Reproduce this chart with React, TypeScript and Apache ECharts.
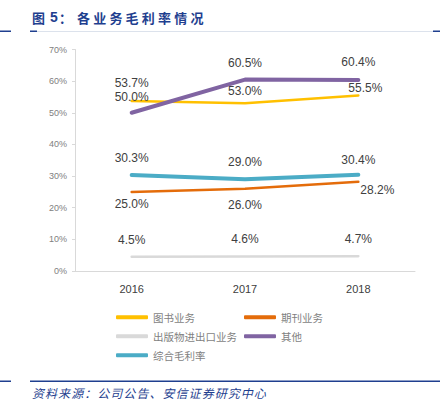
import React, { useEffect, useRef } from "react";
import * as echarts from "echarts";

const years = ["2016", "2017", "2018"];
const books = [53.7, 53.0, 55.5];
const periodicals = [25.0, 26.0, 28.2];
const importExport = [4.5, 4.6, 4.7];
const others = [50.0, 60.5, 60.4];
const overall = [30.3, 29.0, 30.4];
const seriesNames = ["图书业务", "期刊业务", "出版物进出口业务", "其他", "综合毛利率"];
const titleText = "各业务毛利率情况";
const footerText = "资料来源：公司公告、安信证券研究中心";

const BLUE = "#1F3F8F";
const CJK = "'Noto Sans CJK SC', sans-serif";

function charTexts(str: string, x0: number, pitch: number, y: number, style: any) {
  return str.split("").map((ch, i) => ({
    type: "text",
    x: x0 + i * pitch,
    y,
    style: { text: ch, ...style, textVerticalAlign: "middle" },
  }));
}

function mkData(vals: number[], offs: number[][]) {
  return vals.map((v, i) => ({
    value: v,
    label: { offset: offs[i] },
  }));
}

export default function App() {
  const ref = useRef<HTMLDivElement>(null);
  useEffect(() => {
    const chart = echarts.init(ref.current!, undefined, { renderer: "svg" });
    const labelBase = {
      show: true,
      position: "inside",
      formatter: (p: any) => p.value.toFixed(1) + "%",
      color: "#404040",
      fontSize: 12,
      fontFamily: "'Liberation Sans', Arial, sans-serif",
    };
    const mk = (name: string, vals: number[], color: string, width: number, offs: number[][]) => ({
      name,
      type: "line",
      data: mkData(vals, offs),
      symbol: "circle",
      symbolSize: 1,
      itemStyle: { color },
      lineStyle: { color, width, cap: "round" },
      label: labelBase,
      emphasis: { disabled: true },
    });
    const titleStyle = { fill: BLUE, fontSize: 13, fontWeight: "bold", fontFamily: CJK };
    const footStyle = { fill: BLUE, fontSize: 12, fontStyle: "italic", fontFamily: CJK };
    const legendText = { color: "#7F7F7F", fontSize: 10.5, fontFamily: CJK };
    chart.setOption({
      animation: false,
      grid: { left: 75, right: 32, top: 49.5, bottom: 128, containLabel: false },
      xAxis: {
        type: "category",
        data: years,
        boundaryGap: true,
        axisLine: { lineStyle: { color: "#D9D9D9", width: 1 } },
        axisTick: { show: false },
        axisLabel: { color: "#404040", fontSize: 11, margin: 12, fontFamily: "'Liberation Sans', Arial, sans-serif" },
      },
      yAxis: {
        type: "value",
        min: 0,
        max: 70,
        interval: 10,
        axisLine: { show: true, lineStyle: { color: "#D9D9D9", width: 1 } },
        axisTick: { show: true, length: 3, lineStyle: { color: "#D9D9D9" } },
        splitLine: { show: false },
        axisLabel: { color: "#808080", fontSize: 9, margin: 8, formatter: "{value}%", fontFamily: "'Liberation Sans', Arial, sans-serif" },
      },
      legend: [
        {
          orient: "vertical",
          left: 111,
          top: 307,
          itemWidth: 32,
          itemHeight: 4,
          itemGap: 8.5,
          icon: "roundRect",
          data: [seriesNames[0], seriesNames[2], seriesNames[4]],
          textStyle: legendText,
        },
        {
          orient: "vertical",
          left: 239,
          top: 307,
          itemWidth: 32,
          itemHeight: 4,
          itemGap: 8.5,
          icon: "roundRect",
          data: [seriesNames[1], seriesNames[3]],
          textStyle: legendText,
        },
      ],
      series: [
        mk(seriesNames[0], books, "#FFC000", 2.5, [[0, -18.5], [0, -12], [7, -7]]),
        mk(seriesNames[1], periodicals, "#E46C0A", 2.5, [[0, 12], [0, 16], [19, 8]]),
        mk(seriesNames[2], importExport, "#D9D9D9", 2.5, [[0, -17], [0, -17], [0, -17]]),
        mk(seriesNames[3], others, "#8064A2", 4, [[0, -15.5], [0, -17], [0, -18]]),
        mk(seriesNames[4], overall, "#4BACC6", 4, [[0, -17], [0, -17], [0, -15]]),
      ],
      graphic: [
        { type: "text", x: 32, y: 17, style: { text: "图", ...titleStyle, textVerticalAlign: "middle" } },
        { type: "text", x: 50, y: 17, style: { text: "5", ...titleStyle, fontFamily: "'Liberation Sans', Arial, sans-serif", fontSize: 14, textVerticalAlign: "middle" } },
        { type: "text", x: 59, y: 17, style: { text: "：", ...titleStyle, textVerticalAlign: "middle" } },
        ...charTexts(titleText, 77, 16.2, 17, titleStyle),
        { type: "rect", shape: { x: 0, y: 30.5, width: 11, height: 1.5 }, style: { fill: BLUE } },
        { type: "rect", shape: { x: 30, y: 31, width: 410, height: 1 }, style: { fill: "#DCE2EC" } },
        { type: "rect", shape: { x: 30, y: 30.5, width: 7, height: 1.5 }, style: { fill: BLUE } },
        { type: "rect", shape: { x: 433, y: 30.5, width: 7, height: 1.5 }, style: { fill: BLUE } },
        { type: "rect", shape: { x: 0, y: 380.5, width: 11, height: 1.5 }, style: { fill: BLUE } },
        { type: "rect", shape: { x: 30, y: 380.5, width: 410, height: 1.5 }, style: { fill: BLUE } },
        ...charTexts(footerText, 32, 13.05, 392, footStyle),
      ],
    });
    return () => chart.dispose();
  }, []);
  return <div ref={ref} style={{ width: 447, height: 399, position: "absolute", left: 0, top: 0 }} />;
}
